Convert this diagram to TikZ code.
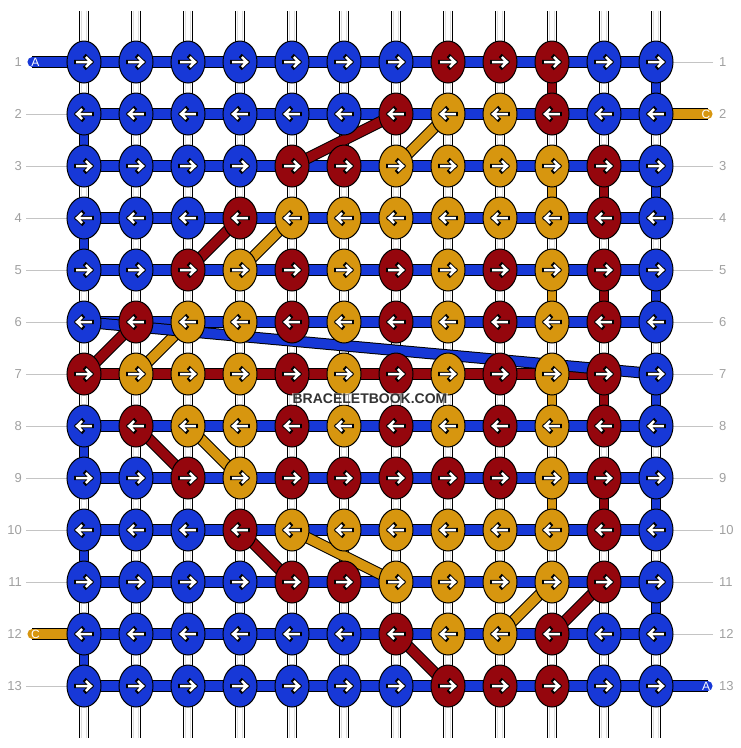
\documentclass[tikz,border=0pt]{standalone}
\usepackage{fontspec}
\setmainfont{Liberation Sans}
\usetikzlibrary{shapes.geometric}
\definecolor{kB}{HTML}{1738D7}
\definecolor{kR}{HTML}{95060D}
\definecolor{kO}{HTML}{D7960F}
\definecolor{lblgray}{HTML}{A0A0A0}
\definecolor{linegray}{HTML}{C4C4C4}
\definecolor{strandgray}{HTML}{DEDEDE}
\definecolor{wmgray}{HTML}{333333}
\tikzset{
  hband/.style={line width=9.5pt, preaction={draw=black, line width=11.5pt}},
  vband/.style={line width=8.4pt, preaction={draw=black, line width=10.4pt}},
  knot/.style={ellipse, draw=black, line width=1pt, minimum width=34pt, minimum height=42pt, inner sep=0pt},
  arrowline/.style={draw=white, line width=2.5pt, line join=miter, line cap=butt, preaction={draw=black, line width=4.3pt, line cap=rect}},
  lbl/.style={text=lblgray, font=\fontsize{13}{15}\selectfont, inner sep=0pt},
  gline/.style={draw=linegray, line width=1pt},
  pilltext/.style={text=white, font=\fontsize{12}{14}\selectfont, inner sep=0pt},
  wmark/.style={text=wmgray, font=\bfseries\fontsize{14}{16}\selectfont, fill=white, fill opacity=0.55, text opacity=1, inner sep=0.6pt},
}
\begin{document}
\begin{tikzpicture}[x=1pt,y=-1pt]
\useasboundingbox (0,0) rectangle (740,748);
% knot positions
\foreach \r in {1,...,13} {
  \foreach \c in {1,...,12} {
    \coordinate (p-\r-\c) at ({84+52*(\c-1)},{62+52*(\r-1)});
  }
}
% vertical base strands
\foreach \c in {1,...,12} {
  \pgfmathsetmacro\xx{84+52*(\c-1)}
  \coordinate (t-\c) at (\xx,10.5);
  \coordinate (b-\c) at (\xx,737.5);
  \draw[vband, draw=white, line cap=round] (t-\c) -- (b-\c);
  \draw[strandgray, line width=0.6pt] ([xshift=-2.4pt]t-\c) -- ([xshift=-2.4pt]b-\c)
        ([xshift=2.4pt]t-\c) -- ([xshift=2.4pt]b-\c);
}
% row labels
\foreach \r in {1,...,13} {
  \pgfmathsetmacro\yy{62+52*(\r-1)}
  \node[lbl, anchor=east] (ll-\r) at (22,\yy) {\r};
  \node[lbl, anchor=west] (rl-\r) at (719,\yy) {\r};
}
\foreach \r in {2,...,11,13} \draw[gline] ([xshift=4pt]ll-\r.east) -- (p-\r-1);
\foreach \r in {1,3,4,...,12} \draw[gline] ([xshift=-6pt]rl-\r.west) -- (p-\r-12);
% horizontal working strands
\foreach \r in {1,2,3,4,5,6,8,9,10,11,12,13} \draw[hband, draw=kB] (p-\r-1) -- (p-\r-12);
\draw[hband, draw=kR] (p-7-1) -- (p-7-11);
% string ends
\coordinate (pl-1) at (32.2,62);
\coordinate (pr-2) at (707.8,114);
\coordinate (pl-12) at (32.2,634);
\coordinate (pr-13) at (707.8,686);
\draw[hband, draw=kB, line cap=round] (pl-1) -- (p-1-1);
\draw[hband, draw=kO, line cap=round] (p-2-12) -- (pr-2);
\draw[hband, draw=kO, line cap=round] (pl-12) -- (p-12-1);
\draw[hband, draw=kB, line cap=round] (p-13-12) -- (pr-13);
\node[pilltext] (ta-1) at (35.5,62) {A};
\node[pilltext] (tc-2) at (706,114) {C};
\node[pilltext] (tc-12) at (35.5,634) {C};
\node[pilltext] (ta-13) at (706,686) {A};
% coloured vertical segments
\foreach \a/\b/\c/\col in {1/2/10/kR, 3/4/10/kO, 5/6/10/kO, 7/8/10/kO, 9/10/10/kO,
  3/4/11/kR, 5/6/11/kR, 7/8/11/kR, 9/10/11/kR,
  1/2/12/kB, 3/4/12/kB, 5/6/12/kB, 7/8/12/kB, 9/10/12/kB, 11/12/12/kB,
  2/3/1/kB, 4/5/1/kB, 8/9/1/kB, 10/11/1/kB, 12/13/1/kB}
  \draw[vband, draw=\col] (p-\a-\c) -- (p-\b-\c);
% diagonal strands
\foreach \ra/\ca/\rb/\cb/\col in {2/7/3/5/kR, 4/4/5/3/kR, 6/2/7/1/kR, 8/2/9/3/kR,
  10/4/11/5/kR, 12/7/13/8/kR, 11/11/12/10/kR,
  2/8/3/7/kO, 4/5/5/4/kO, 6/3/7/2/kO, 8/3/9/4/kO, 10/5/11/7/kO, 11/10/12/9/kO}
  \draw[hband, draw=\col] (p-\ra-\ca) -- (p-\rb-\cb);
\draw[hband, draw=kB] (p-6-1) -- (p-7-12);
% knots
\foreach \row [count=\r] in {
  {kB,kB,kB,kB,kB,kB,kB,kR,kR,kR,kB,kB},
  {kB,kB,kB,kB,kB,kB,kR,kO,kO,kR,kB,kB},
  {kB,kB,kB,kB,kR,kR,kO,kO,kO,kO,kR,kB},
  {kB,kB,kB,kR,kO,kO,kO,kO,kO,kO,kR,kB},
  {kB,kB,kR,kO,kR,kO,kR,kO,kR,kO,kR,kB},
  {kB,kR,kO,kO,kR,kO,kR,kO,kR,kO,kR,kB},
  {kR,kO,kO,kO,kR,kO,kR,kO,kR,kO,kR,kB},
  {kB,kR,kO,kO,kR,kO,kR,kO,kR,kO,kR,kB},
  {kB,kB,kR,kO,kR,kR,kR,kR,kR,kO,kR,kB},
  {kB,kB,kB,kR,kO,kO,kO,kO,kO,kO,kR,kB},
  {kB,kB,kB,kB,kR,kR,kO,kO,kO,kO,kR,kB},
  {kB,kB,kB,kB,kB,kB,kR,kO,kO,kR,kB,kB},
  {kB,kB,kB,kB,kB,kB,kB,kR,kR,kR,kB,kB}} {
  \foreach \col [count=\c] in \row {
    \node[knot, fill=\col] (k-\r-\c) at (p-\r-\c) {};
  }
}
% arrows
\foreach \r in {1,...,13} {
  \pgfmathsetmacro\dd{ifthenelse(mod(\r,2)==1,1,-1)}
  \foreach \c in {1,...,12} {
    \draw[arrowline, shift={(p-\r-\c)}, xscale=\dd] (-7.8,0) -- (7.0,0) (1.8,-5) -- (7.0,0) -- (1.8,5);
  }
}
\node[wmark] (wm) at (370,399) {BRACELETBOOK.COM};
\end{tikzpicture}
\end{document}
